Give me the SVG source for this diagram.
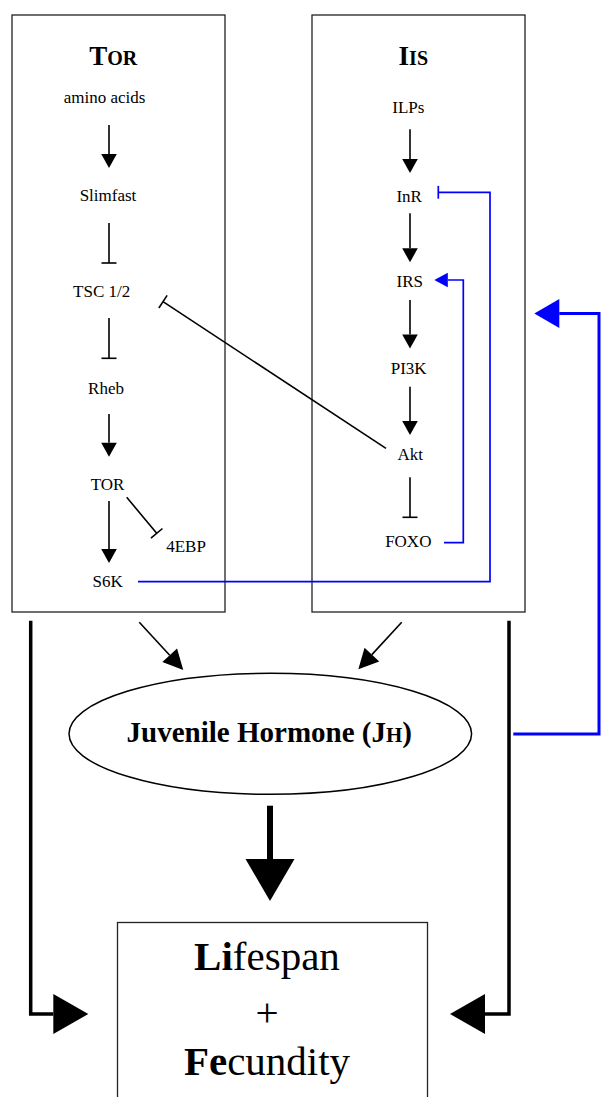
<svg xmlns="http://www.w3.org/2000/svg" width="601" height="1097" viewBox="0 0 601 1097">
<style>
text{font-family:"Liberation Serif","Times New Roman",serif;fill:#000}
.lbl{font-size:17px;text-anchor:middle}
.box{fill:#fff;stroke:#222;stroke-width:1.3}
.thin{fill:none;stroke:#000;stroke-width:1.6}
.blue{fill:none;stroke:#0000ff;stroke-width:1.7}
.bluethick{fill:none;stroke:#0000ff;stroke-width:3}
.thick{fill:none;stroke:#000;stroke-width:3.5}
.jh{fill:none;stroke:#000;stroke-width:6}
</style>
<defs>
<marker id="arr" markerUnits="userSpaceOnUse" viewBox="0 -8 14 16" refX="0" refY="0" markerWidth="14" markerHeight="16" orient="auto" overflow="visible"><path d="M0,-7.8 L14,0 L0,7.8 z" fill="#000"/></marker>
<marker id="arrDiag" markerUnits="userSpaceOnUse" viewBox="0 -10 20 20" refX="0" refY="0" markerWidth="20" markerHeight="20" orient="auto" overflow="visible"><path d="M0,-10 L20,0 L0,10 z" fill="#000"/></marker>
<marker id="arrBig" markerUnits="userSpaceOnUse" viewBox="0 -20 35 40" refX="0" refY="0" markerWidth="35" markerHeight="40" orient="auto" overflow="visible"><path d="M0,-20 L35,0 L0,20 z" fill="#000"/></marker>
<marker id="arrJH" markerUnits="userSpaceOnUse" viewBox="0 -25 42 50" refX="0" refY="0" markerWidth="42" markerHeight="50" orient="auto" overflow="visible"><path d="M0,-24.5 L42,0 L0,24.5 z" fill="#000"/></marker>
<marker id="arrBlue" markerUnits="userSpaceOnUse" viewBox="0 -8 13.5 16" refX="0" refY="0" markerWidth="13.5" markerHeight="16" orient="auto" overflow="visible"><path d="M0,-7.3 L13.5,0 L0,7.3 z" fill="#0000ff"/></marker>
<marker id="arrBlueBig" markerUnits="userSpaceOnUse" viewBox="0 -15 25 30" refX="0" refY="0" markerWidth="25" markerHeight="30" orient="auto" overflow="visible"><path d="M0,-14.5 L25,0 L0,14.5 z" fill="#0000ff"/></marker>
<marker id="bar" markerUnits="userSpaceOnUse" viewBox="-1 -8 2 16" refX="0" refY="0" markerWidth="2" markerHeight="16" orient="auto" overflow="visible"><path d="M0,-7.5 V7.5" stroke="#000" stroke-width="1.6" fill="none"/></marker>
<marker id="barBlue" markerUnits="userSpaceOnUse" viewBox="-1 -7 2 14" refX="0" refY="0" markerWidth="2" markerHeight="14" orient="auto" overflow="visible"><path d="M0,-6.4 V6.4" stroke="#0000ff" stroke-width="1.7" fill="none"/></marker>
</defs>

<g id="tor-box">
<rect class="box" x="12" y="15" width="213" height="597"/>
<text x="113.3" y="65" font-weight="bold" text-anchor="middle"><tspan font-size="27">T</tspan><tspan font-size="20">OR</tspan></text>
</g>
<g id="iis-box">
<rect class="box" x="312" y="15" width="213" height="597"/>
<text x="413.3" y="65" font-weight="bold" text-anchor="middle"><tspan font-size="27">I</tspan><tspan font-size="20">IS</tspan></text>
</g>

<g id="amino-acids"><text class="lbl" x="104.5" y="103">amino acids</text></g>
<g id="slimfast"><text class="lbl" x="108" y="201">Slimfast</text></g>
<g id="tsc"><text class="lbl" x="101.7" y="296.7">TSC 1/2</text></g>
<g id="rheb"><text class="lbl" x="106" y="394">Rheb</text></g>
<g id="tor"><text class="lbl" x="107.5" y="490">TOR</text></g>
<g id="s6k"><text class="lbl" x="107.7" y="586.7">S6K</text></g>
<g id="4ebp"><text class="lbl" x="186" y="551.7">4EBP</text></g>

<g id="ilps"><text class="lbl" x="408.3" y="113.3">ILPs</text></g>
<g id="inr"><text class="lbl" x="409.2" y="201.7">InR</text></g>
<g id="irs"><text class="lbl" x="409.8" y="287.3">IRS</text></g>
<g id="pi3k"><text class="lbl" x="408.7" y="374">PI3K</text></g>
<g id="akt"><text class="lbl" x="410.2" y="460">Akt</text></g>
<g id="foxo"><text class="lbl" x="408.3" y="547.3">FOXO</text></g>

<g id="jh">
<ellipse cx="270.3" cy="733.8" rx="201.3" ry="60.5" fill="#fff" stroke="#000" stroke-width="1.5"/>
<text x="269.3" y="741.7" font-weight="bold" text-anchor="middle" font-size="29">Juvenile Hormone (J<tspan font-size="21">H</tspan>)</text>
</g>

<g id="lifespan-fecundity">
<rect class="box" x="117.5" y="922.5" width="310" height="200"/>
<text x="267" y="970" font-size="41" text-anchor="middle"><tspan font-weight="bold">Li</tspan>fespan</text>
<text x="267" y="1026" font-size="41" text-anchor="middle">+</text>
<text x="267" y="1075" font-size="41" text-anchor="middle"><tspan font-weight="bold">Fe</tspan>cundity</text>
</g>

<g id="connectors">
<path class="thin" d="M109,125 V154" marker-end="url(#arr)"/>
<path class="thin" d="M109,223 V263" marker-end="url(#bar)"/>
<path class="thin" d="M109,318 V358.3" marker-end="url(#bar)"/>
<path class="thin" d="M109,414 V442.7" marker-end="url(#arr)"/>
<path class="thin" d="M109,501 V549" marker-end="url(#arr)"/>
<path class="thin" d="M126.7,497.3 L156.7,533.3" marker-end="url(#bar)"/>

<path class="thin" d="M410,129.3 V159" marker-end="url(#arr)"/>
<path class="thin" d="M410,213.3 V248.3" marker-end="url(#arr)"/>
<path class="thin" d="M410,300 V334.5" marker-end="url(#arr)"/>
<path class="thin" d="M410,386.7 V421" marker-end="url(#arr)"/>
<path class="thin" d="M410,477.3 V517.3" marker-end="url(#bar)"/>
<path class="thin" d="M386,448.3 L163,301.7" marker-end="url(#bar)"/>

<path class="blue" d="M138,581.7 H490 V192.3 H438.3" marker-end="url(#barBlue)"/>
<path class="blue" d="M444,542.7 H463.3 V280 H447.8" marker-end="url(#arrBlue)"/>
<path class="bluethick" d="M513.3,734 H599 V313.5 H559.3" marker-end="url(#arrBlueBig)"/>

<path class="thin" d="M139.3,622.3 L169.7,655.3" marker-end="url(#arrDiag)"/>
<path class="thin" d="M401.7,622.3 L371.9,654.6" marker-end="url(#arrDiag)"/>

<path class="jh" d="M270,805.7 V859" marker-end="url(#arrJH)"/>
<path class="thick" d="M30.7,620.7 V1014 H53.3" marker-end="url(#arrBig)"/>
<path class="thick" d="M509,620.7 V1014 H485" marker-end="url(#arrBig)"/>
</g>
</svg>
